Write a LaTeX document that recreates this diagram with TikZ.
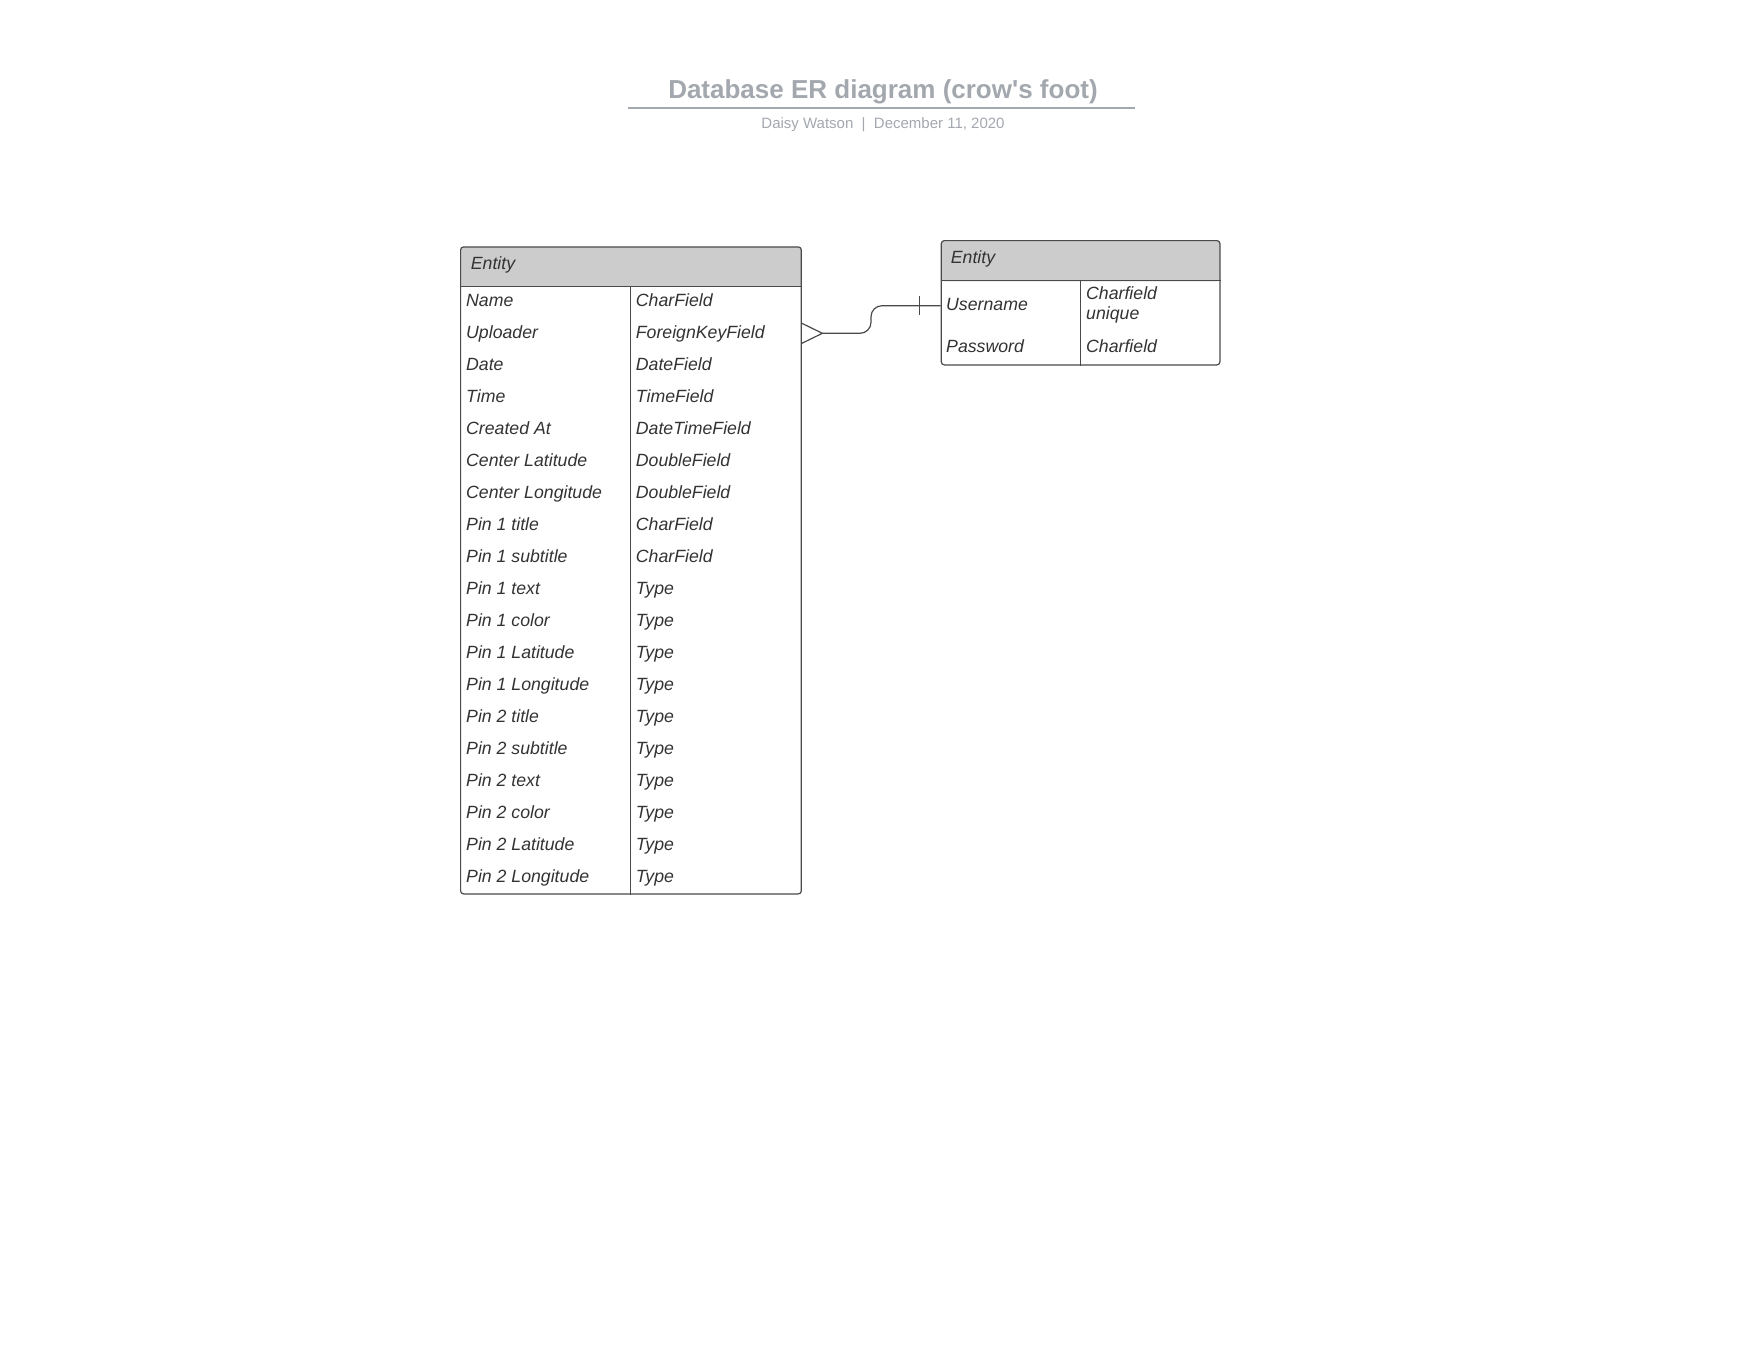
\documentclass[tikz,border=0pt]{standalone}
\usepackage{fontspec}
\setmainfont{Liberation Sans}
\newfontfamily\plainsans{Liberation Sans}
\definecolor{linec}{HTML}{4A4A4A}
\definecolor{txt}{HTML}{333333}
\definecolor{hdr}{HTML}{CCCCCC}
\definecolor{ttl}{HTML}{A3A7AE}
\begin{document}
\begin{tikzpicture}[x=1pt,y=-1pt,
  line/.style={draw=linec, line width=1.2pt},
  ent/.style={draw=linec, line width=1.2pt, rounded corners=3pt, fill=white, inner sep=0pt, anchor=north west,
    path picture={\fill[hdr] (path picture bounding box.north west) rectangle ([yshift=-#1]path picture bounding box.north east);}},
  cell/.style={anchor=base west, inner sep=0pt, text=txt, font=\fontsize{17.7}{20}\selectfont\itshape},
  ttlstyle/.style={anchor=base, inner sep=0pt, text=ttl, font=\plainsans\fontsize{26}{30}\selectfont\bfseries},
  substyle/.style={anchor=base, inner sep=0pt, text=ttl, font=\fontsize{15}{18}\selectfont}
]
\useasboundingbox (0,0) rectangle (1760,1360);

% title
\node[ttlstyle] (title) at (883,98) {Database ER diagram (crow's foot)};
\draw[ttl, line width=1.5pt] (628,108) -- (1135,108);
\node[substyle] (subtitle) at (883,128.3) {Daisy Watson\ \ |\ \ December 11, 2020};

% left entity
\node[ent=40pt, minimum width=340.7pt, minimum height=647pt] (E1) at (460,246.3) {};
\draw[line] ([yshift=-40pt]E1.north west) -- ([yshift=-40pt]E1.north east);
\draw[line] ([yshift=-40pt, xshift=170.3pt]E1.north west) -- ([xshift=170.3pt]E1.south west);
\node[cell] (E1h) at (470.7,269.3) {Entity};
\foreach \n/\t [count=\i from 0] in {Name/CharField, Uploader/ForeignKeyField, Date/DateField, Time/TimeField,
  Created At/DateTimeField, Center Latitude/DoubleField, Center Longitude/DoubleField,
  Pin 1 title/CharField, Pin 1 subtitle/CharField, Pin 1 text/Type, Pin 1 color/Type,
  Pin 1 Latitude/Type, Pin 1 Longitude/Type, Pin 2 title/Type, Pin 2 subtitle/Type,
  Pin 2 text/Type, Pin 2 color/Type, Pin 2 Latitude/Type, Pin 2 Longitude/Type} {
  \node[cell] (E1n\i) at (466,{306+32*\i}) {\n};
  \node[cell] (E1t\i) at (635.7,{306+32*\i}) {\t};
}

% right entity
\node[ent=40.7pt, minimum width=278.6pt, minimum height=124.3pt] (E2) at (940.7,240) {};
\draw[line] ([yshift=-40.7pt]E2.north west) -- ([yshift=-40.7pt]E2.north east);
\draw[line] ([yshift=-40.7pt, xshift=140pt]E2.north west) -- ([xshift=140pt]E2.south west);
\node[cell] (E2h) at (950.7,263.3) {Entity};
\node[cell] (E2n0) at (946,310.3) {Username};
\node[cell, anchor=north west, align=left] (E2t0) at (1086,286.5) {Charfield\\unique};
\node[cell] (E2n1) at (946,352.8) {Password};
\node[cell] (E2t1) at (1086,352.8) {Charfield};

% connector
\coordinate (fk) at ([yshift=-87pt]E1.north east);
\coordinate (pk) at ([yshift=-65.7pt]E2.north west);
\coordinate (tip) at ([xshift=20.5pt]fk);
\draw[line] ([yshift=10pt]fk) -- (tip) -- ([yshift=-10pt]fk);
\draw[line, rounded corners=11pt] (tip) -| ([xshift=-69.7pt]pk) -- (pk);
\draw[line] ([xshift=-21.4pt,yshift=9.5pt]pk) -- ([xshift=-21.4pt,yshift=-9.5pt]pk);
\end{tikzpicture}
\end{document}
